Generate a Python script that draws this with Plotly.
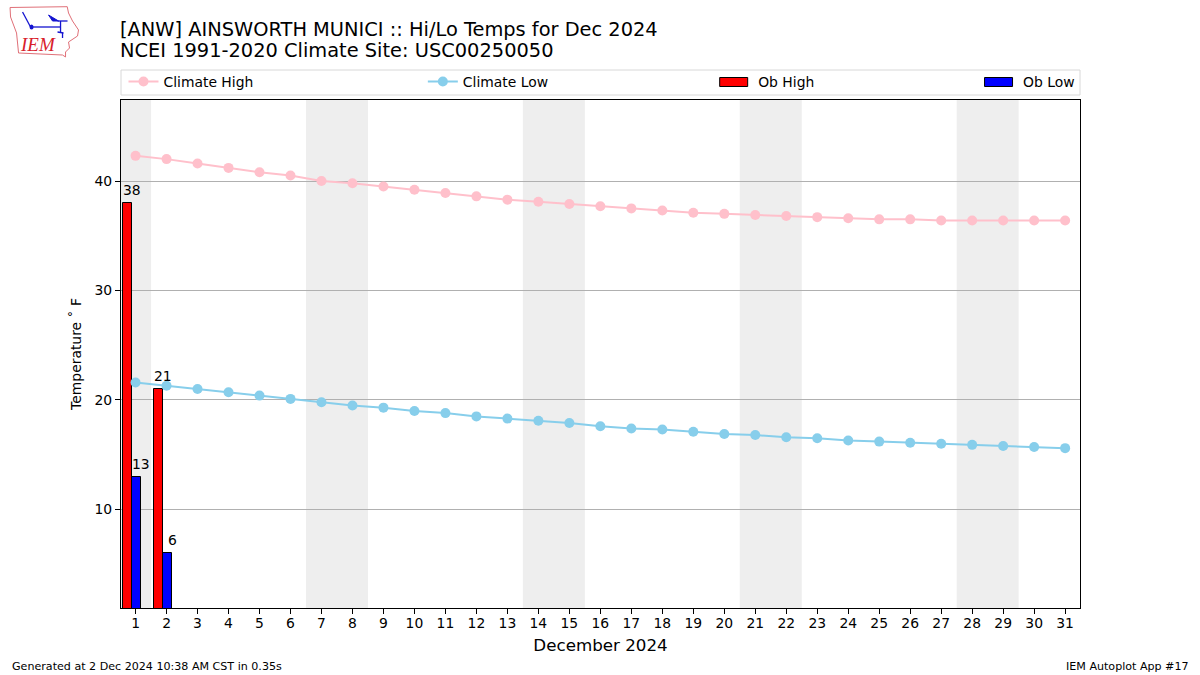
import plotly.graph_objects as go

days = list(range(1, 32))
climate_high = [42.3, 42.0, 41.6, 41.2, 40.8, 40.5, 40.0, 39.8, 39.5, 39.2, 38.9, 38.6, 38.3, 38.1, 37.9, 37.7,
                37.5, 37.3, 37.1, 37.0, 36.9, 36.8, 36.7, 36.6, 36.5, 36.5, 36.4, 36.4, 36.4, 36.4, 36.4]
climate_low = [21.6, 21.3, 21.0, 20.7, 20.4, 20.1, 19.8, 19.5, 19.3, 19.0, 18.8, 18.5, 18.3, 18.1, 17.9, 17.6,
               17.4, 17.3, 17.1, 16.9, 16.8, 16.6, 16.5, 16.3, 16.2, 16.1, 16.0, 15.9, 15.8, 15.7, 15.6]
ob_days = [1, 2]
ob_high = [38, 21]
ob_low = [13, 6]
weekend_spans = [(0.5, 1.5), (6.5, 8.5), (13.5, 15.5), (20.5, 22.5), (27.5, 29.5)]

W, H = 1200, 675
L, R, T, B = 120.5, 1080, 100, 608
FONT = "DejaVu Sans"


def fx(x):
    return (x - L) / (R - L)


def fy(y):
    return (B - y) / (B - T)


def pth(points, close=False):
    return "M" + "L".join(f"{fx(x):.5f},{fy(y):.5f}" for x, y in points) + ("Z" if close else "")


fig = go.Figure()
fig.add_trace(go.Bar(x=ob_days, y=ob_high, name="Ob High", width=0.3, offset=-0.42, showlegend=False,
                     marker=dict(color="red", line=dict(color="black", width=1))))
fig.add_trace(go.Bar(x=ob_days, y=ob_low, name="Ob Low", width=0.3, offset=-0.12, showlegend=False,
                     marker=dict(color="blue", line=dict(color="black", width=1))))
fig.add_trace(go.Scatter(x=days, y=climate_high, name="Climate High", mode="lines+markers", showlegend=True,
                         line=dict(color="#ffc0cb", width=2), marker=dict(color="#ffc0cb", size=10), legend="legend"))
fig.add_trace(go.Scatter(x=days, y=climate_low, name="Climate Low", mode="lines+markers", showlegend=True,
                         line=dict(color="#87ceeb", width=2), marker=dict(color="#87ceeb", size=10), legend="legend2"))
# legend text entries for the bars; the swatches are wider rectangles drawn in the legend frame
for nm, lg in (("Ob High", "legend3"), ("Ob Low", "legend4")):
    fig.add_trace(go.Bar(x=[None], y=[None], name=nm, showlegend=True, legend=lg,
                         marker=dict(color="rgba(0,0,0,0)", line=dict(width=0))))

shapes = []
for a, b in weekend_spans:
    shapes.append(dict(type="rect", xref="x", yref="paper", x0=a, x1=b, y0=0, y1=1,
                       fillcolor="#eeeeee", line_width=0, layer="below"))
shapes.append(dict(type="rect", xref="paper", yref="paper", x0=0, x1=1, y0=fy(95), y1=fy(70),
                   line=dict(color="#d8d8d8", width=1), fillcolor="white", layer="below"))
for x0, col in ((719.5, "red"), (984.5, "blue")):
    shapes.append(dict(type="rect", xref="paper", yref="paper", x0=fx(x0), x1=fx(x0 + 28), y0=fy(86.5), y1=fy(77.5),
                       fillcolor=col, line=dict(color="black", width=1)))

annotations = []
for d, v in zip(ob_days, ob_high):
    annotations.append(dict(x=d - 0.12, y=v, text=str(v), showarrow=False, yshift=13,
                            font=dict(family=FONT, size=13.9, color="black")))
for d, v in zip(ob_days, ob_low):
    annotations.append(dict(x=d + 0.18, y=v, text=str(v), showarrow=False, yshift=13,
                            font=dict(family=FONT, size=13.9, color="black")))


def note(x, y, text, size, anchor="left", color="black", family=FONT, style="normal"):
    annotations.append(dict(xref="paper", yref="paper", x=fx(x), y=fy(y), text=text,
                            showarrow=False, xanchor=anchor, yanchor="middle",
                            font=dict(family=family, size=size, color=color, style=style)))


note(117, 29, "[ANW] AINSWORTH MUNICI :: Hi/Lo Temps for Dec 2024", 19.4)
note(117, 51, "NCEI 1991-2020 Climate Site: USC00250050", 19.4)
note(9, 666, "Generated at 2 Dec 2024 10:38 AM CST in 0.35s", 11.1)
note(1191, 666, "IEM Autoplot App #17", 11.1, anchor="right")
note(17, 45, "IEM", 19, color="#d8202a", family="Liberation Serif", style="italic")

iowa = [(9.5, 7.5), (66.7, 6.7), (68, 13), (72, 21), (78, 30), (77, 36), (68, 42), (69, 48), (65, 52), (65, 57),
        (62, 55), (18, 53), (16, 33), (10, 17)]
shapes.append(dict(type="path", xref="paper", yref="paper", path=pth(iowa, True), line=dict(color="#e07078", width=1)))
for seg in [[(30, 27), (60, 27)], [(60, 21), (60, 33)], [(22, 12), (30, 27)], [(57, 21), (67, 21)],
            [(57, 32), (63, 33)], [(62, 33), (62, 38)]]:
    shapes.append(dict(type="path", xref="paper", yref="paper", path=pth(seg), line=dict(color="#1414d0", width=1.3)))
shapes.append(dict(type="path", xref="paper", yref="paper", path=pth([(48, 15), (58, 21), (52, 21)], True),
                   fillcolor="#1414d0", line=dict(color="#1414d0", width=1)))
shapes.append(dict(type="circle", xref="paper", yref="paper", x0=fx(29), x1=fx(33), y0=fy(29.5), y1=fy(24.5),
                   fillcolor="#1414d0", line=dict(color="#1414d0", width=0)))

axis_common = dict(tickmode="array", ticks="outside", ticklen=5, tickwidth=1, tickcolor="black", zeroline=False,
                   showline=True, linecolor="black", linewidth=1, mirror=True)
fig.update_layout(
    width=W, height=H, autosize=False, showlegend=True,
    margin=dict(l=L, r=W - R, t=T, b=H - B, pad=0),
    plot_bgcolor="white", paper_bgcolor="white",
    font=dict(family=FONT, size=13.9, color="black"),
    barmode="overlay", bargap=0,
    shapes=shapes, annotations=annotations,
    xaxis=dict(axis_common, range=[0.53, 31.48], tickvals=days, ticktext=[str(d) for d in days], showgrid=False,
               ticklabelstandoff=-3,
               title=dict(text="December 2024", font=dict(size=16.7), standoff=9)),
    yaxis=dict(axis_common, range=[1.0, 47.4], tickvals=[10, 20, 30, 40], ticktext=["10", "20", "30", "40"],
               showgrid=True, gridcolor="#b0b0b0", gridwidth=1,
               title=dict(text="Temperature ˚ F", font=dict(size=13.9), standoff=9)),
)

legend_base = dict(orientation="h", bgcolor="rgba(0,0,0,0)", borderwidth=0, xanchor="left", yanchor="middle",
                   y=fy(82), itemwidth=30, font=dict(family=FONT, size=13.9, color="black"))
fig.update_layout(
    legend=dict(legend_base, x=fx(123)),
    legend2=dict(legend_base, x=fx(422.5)),
    legend3=dict(legend_base, x=fx(718)),
    legend4=dict(legend_base, x=fx(983)),
)

fig.write_html("out.html", config=dict(displayModeBar=False),
               post_script="document.body.style.margin='0';document.body.style.overflow='hidden';")
